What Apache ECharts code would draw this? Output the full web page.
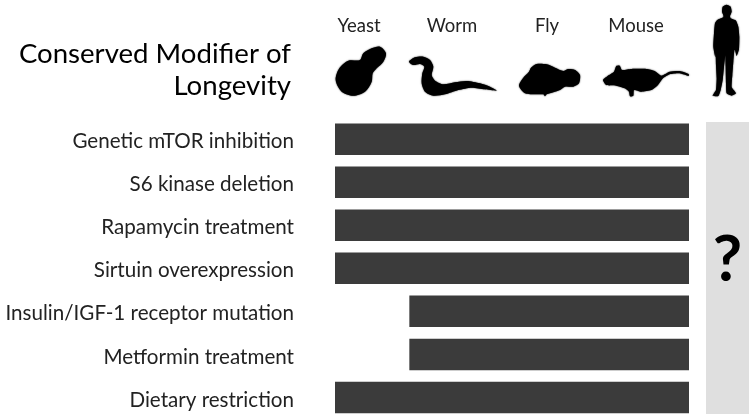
<!DOCTYPE html>
<html><head><meta charset="utf-8">
<style>html,body{margin:0;padding:0;background:#fff}#c{width:754px;height:419px}</style>
<script src="https://cdn.jsdelivr.net/npm/echarts@6/dist/echarts.min.js"></script>
</head><body><div id="c"></div>
<script>
const titleText = 'Conserved Modifier of\nLongevity';
const categories = ['Genetic mTOR inhibition','S6 kinase deletion','Rapamycin treatment','Sirtuin overexpression','Insulin/IGF-1 receptor mutation','Metformin treatment','Dietary restriction'];
const species = ['Yeast','Worm','Fly','Mouse'];
// first species position (0 = yeast column edge, 4 = mouse column edge)
const conservedFrom = [0,0,0,0,0.84,0.84,0];
const conservedTo = [4,4,4,4,4,4,4];
const humanLabel = '?';
const humanValue = [1];

const FONT = 'Lato';
const spanOffsets = conservedFrom;
const spans = conservedTo.map((v,i)=>v-conservedFrom[i]);

function sil(ox,oy,pts,smooth){
  return {type:'polygon',silent:true,shape:{points:pts.map(p=>[ox+p[0]/3,oy+p[1]/3]),smooth:smooth},style:{fill:'#000',shadowBlur:1.5,shadowColor:'#000'}};
}
const yeast=[[150,20],[168,40],[160,65],[140,85],[128,100],[125,125],[105,155],[70,167],[35,155],[17,120],[28,85],[55,62],[90,60],[100,40],[125,25]];
const worm=[[12,35],[30,22],[55,20],[75,30],[85,50],[80,75],[90,92],[115,103],[150,97],[185,93],[225,100],[255,110],[275,122],[240,118],[200,113],[160,120],[120,133],[85,137],[60,125],[50,100],[52,70],[58,50],[45,42],[25,45]];
const fly=[[12,92],[25,68],[42,50],[48,38],[65,27],[95,28],[120,38],[145,48],[160,42],[180,45],[195,60],[192,85],[175,95],[150,95],[135,105],[115,112],[95,118],[90,124],[85,118],[55,118],[30,115]];
const mouse=[[15,75],[30,62],[48,50],[55,33],[65,32],[72,45],[100,42],[145,42],[170,48],[190,62],[215,50],[245,48],[272,57],[272,63],[245,55],[215,58],[195,70],[180,90],[160,105],[130,110],[108,105],[106,122],[96,124],[93,110],[80,100],[55,92],[25,90]];
const human=[[68,20],[80,14],[92,20],[95,35],[90,48],[92,55],[108,62],[115,80],[118,110],[117,148],[110,168],[105,150],[103,150],[100,185],[97,225],[95,262],[108,280],[95,287],[80,280],[78,250],[77,200],[76,165],[72,200],[68,240],[62,270],[55,288],[38,287],[48,270],[50,235],[48,195],[47,160],[46,172],[40,140],[42,100],[45,70],[52,60],[70,52],[70,45],[66,35]];

const speciesX=[359,452,547,636];
const chart=echarts.init(document.getElementById('c'),null,{renderer:'canvas'});
chart.setOption({
  animation:false,
  backgroundColor:'#fff',
  title:{text:titleText,left:291,top:38.5,padding:0,textAlign:'right',textStyle:{fontFamily:FONT,fontWeight:'normal',fontSize:27.6,lineHeight:32,color:'#000',align:'right'}},
  graphic:[
    ...species.map((s,i)=>({type:'text',silent:true,style:{text:s,x:speciesX[i],y:26,align:'center',verticalAlign:'middle',font:'18.5px Lato',fill:'#222'}})),
    sil(330,40,yeast,0.3),sil(405,50,worm,0.25),sil(515,55,fly,0.25),sil(598,55,mouse,0.2),sil(700,0,human,0.15)
  ],
  grid:[
    {left:335,top:117.6,width:354,height:302.4},
    {left:706,top:122,width:43,height:292}
  ],
  xAxis:[
    {gridIndex:0,type:'value',min:0,max:4,show:false},
    {gridIndex:1,type:'value',min:0,max:1,show:false}
  ],
  yAxis:[
    {gridIndex:0,type:'category',inverse:true,data:categories,axisLine:{show:false},axisTick:{show:false},
     axisLabel:{margin:41,fontFamily:FONT,fontSize:20.6,color:'#222',verticalAlign:'top',lineHeight:5}},
    {gridIndex:1,type:'category',data:['Human'],show:false}
  ],
  series:[
    {type:'bar',stack:'a',xAxisIndex:0,yAxisIndex:0,data:spanOffsets,barWidth:31.5,itemStyle:{color:'transparent'},silent:true},
    {type:'bar',stack:'a',xAxisIndex:0,yAxisIndex:0,data:spans,barWidth:31.5,itemStyle:{color:'#3b3b3b'}},
    {type:'bar',xAxisIndex:1,yAxisIndex:1,data:humanValue,barWidth:292,itemStyle:{color:'#dfdfdf'},
     label:{show:true,position:'inside',offset:[0,-8],formatter:humanLabel,fontFamily:FONT,fontWeight:'bold',fontSize:64,color:'#000'}}
  ]
});
</script></body></html>
